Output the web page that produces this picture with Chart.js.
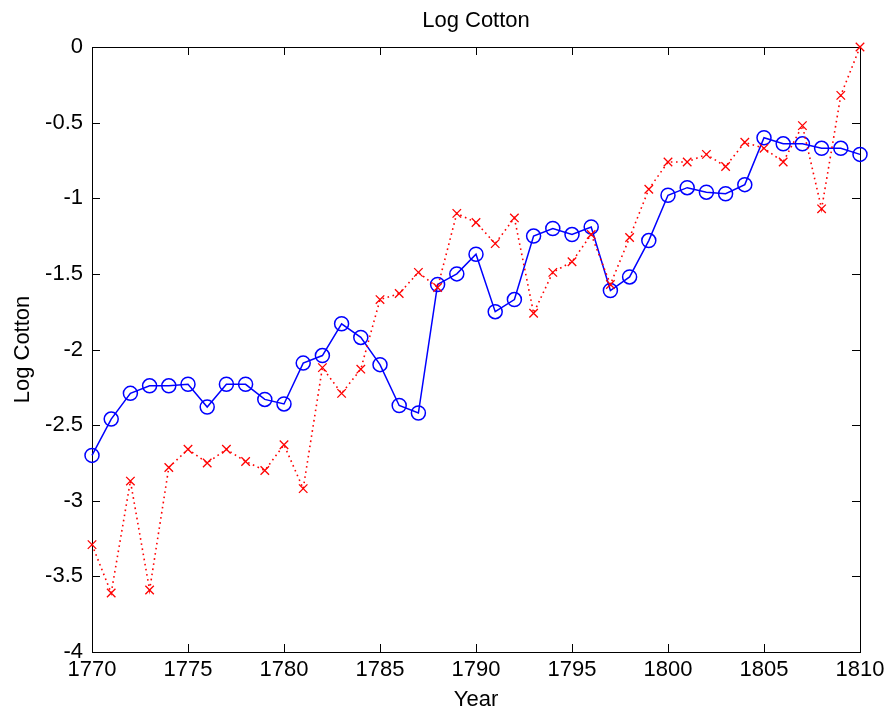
<!DOCTYPE html>
<html>
<head>
<meta charset="utf-8">
<script src="https://cdn.jsdelivr.net/npm/chart.js@4/dist/chart.umd.min.js"></script>
<style>
	html, body { margin: 0; padding: 0; background: #fff; }
</style>
</head>
<body>
<canvas id="chart" width="887" height="713"></canvas>
<script>
	'use strict';

	// data
	var years = [1770, 1771, 1772, 1773, 1774, 1775, 1776, 1777, 1778, 1779,
		1780, 1781, 1782, 1783, 1784, 1785, 1786, 1787, 1788, 1789,
		1790, 1791, 1792, 1793, 1794, 1795, 1796, 1797, 1798, 1799,
		1800, 1801, 1802, 1803, 1804, 1805, 1806, 1807, 1808, 1809, 1810];
	var cottonCircles = [-2.70, -2.46, -2.29, -2.24, -2.24, -2.23, -2.38, -2.23, -2.23, -2.33,
		-2.36, -2.09, -2.04, -1.83, -1.92, -2.10, -2.37, -2.42, -1.57, -1.50,
		-1.37, -1.75, -1.67, -1.25, -1.20, -1.24, -1.19, -1.61, -1.52, -1.28,
		-0.98, -0.93, -0.96, -0.97, -0.91, -0.60, -0.64, -0.64, -0.67, -0.67, -0.71];
	var cottonCrosses = [-3.29, -3.61, -2.87, -3.59, -2.78, -2.66, -2.75, -2.66, -2.74, -2.80,
		-2.63, -2.92, -2.12, -2.29, -2.13, -1.67, -1.63, -1.49, -1.59, -1.10,
		-1.16, -1.30, -1.13, -1.76, -1.49, -1.42, -1.24, -1.57, -1.26, -0.94,
		-0.76, -0.76, -0.71, -0.79, -0.63, -0.67, -0.76, -0.52, -1.07, -0.32, 0.00];
	var xTickLabels = [1770, 1775, 1780, 1785, 1790, 1795, 1800, 1805, 1810];
	var yTickLabels = [0, -0.5, -1, -1.5, -2, -2.5, -3, -3.5, -4];

	function toPoints(xs, ys) {
		return xs.map(function (x, i) { return { x: x, y: ys[i] }; });
	}

	var FONT = { family: '"Liberation Sans", Arial, sans-serif', size: 22, weight: 'normal' };

	// matlab style box with inward ticks on all four sides
	var boxTicks = {
		id: 'boxTicks',
		beforeDatasetsDraw: function (chart) {
			var ctx = chart.ctx, a = chart.chartArea;
			var sx = chart.scales.x, sy = chart.scales.y, len = 8;
			ctx.save();
			ctx.strokeStyle = '#000';
			ctx.lineWidth = 1;
			ctx.beginPath();
			xTickLabels.forEach(function (v) {
				var px = Math.round(sx.getPixelForValue(v)) + 0.5;
				ctx.moveTo(px, a.bottom); ctx.lineTo(px, a.bottom - len);
				ctx.moveTo(px, a.top); ctx.lineTo(px, a.top + len);
			});
			yTickLabels.forEach(function (v) {
				var py = Math.round(sy.getPixelForValue(v)) + 0.5;
				ctx.moveTo(a.left, py); ctx.lineTo(a.left + len, py);
				ctx.moveTo(a.right, py); ctx.lineTo(a.right - len, py);
			});
			ctx.stroke();
			ctx.strokeRect(Math.round(a.left) + 0.5, Math.round(a.top) + 0.5,
				Math.round(a.right - a.left), Math.round(a.bottom - a.top));
			ctx.restore();
		}
	};

	new Chart(document.getElementById('chart'), {
		type: 'line',
		data: {
			datasets: [{
				data: toPoints(years, cottonCrosses),
				borderColor: '#ff0000',
				borderWidth: 1.6,
				borderDash: [1.6, 3.6],
				pointStyle: 'crossRot',
				pointRadius: 6,
				pointBorderWidth: 1.3,
				pointBorderColor: '#ff0000',
				fill: false,
				tension: 0,
				clip: false
			}, {
				data: toPoints(years, cottonCircles),
				borderColor: '#0000ff',
				borderWidth: 1.5,
				pointStyle: 'circle',
				pointRadius: 7,
				pointBorderWidth: 1.5,
				pointBorderColor: '#0000ff',
				pointBackgroundColor: 'rgba(0,0,0,0)',
				fill: false,
				tension: 0,
				clip: false
			}]
		},
		options: {
			responsive: false,
			animation: false,
			layout: { padding: { left: 0, right: 27, top: 0, bottom: 0 } },
			plugins: {
				legend: { display: false },
				tooltip: { enabled: false },
				title: {
					display: true,
					fullSize: false,
					text: 'Log Cotton',
					color: '#000',
					font: FONT,
					padding: { top: 8, bottom: 12.6 }
				}
			},
			scales: {
				x: {
					type: 'linear',
					min: 1770,
					max: 1810,
					grid: { display: false, drawTicks: false },
					border: { display: false },
					afterBuildTicks: function (scale) {
						scale.ticks = xTickLabels.map(function (v) { return { value: v }; });
					},
					ticks: {
						color: '#000',
						font: FONT,
						padding: 5,
						maxRotation: 0,
						autoSkip: false,
						callback: function (v) { return String(v); }
					},
					title: {
						display: true,
						text: 'Year',
						color: '#000',
						font: FONT,
						padding: { top: 0, bottom: 0 }
					},
					afterFit: function (scale) {
						scale.height = 61;
						scale.paddingLeft = 0;
						scale.paddingRight = 0;
					}
				},
				y: {
					type: 'linear',
					min: -4,
					max: 0,
					grid: { display: false, drawTicks: false },
					border: { display: false },
					afterBuildTicks: function (scale) {
						scale.ticks = yTickLabels.map(function (v) { return { value: v }; });
					},
					ticks: {
						color: '#000',
						font: FONT,
						padding: 9,
						autoSkip: false,
						callback: function (v) { return String(v); }
					},
					title: {
						display: true,
						text: 'Log Cotton',
						color: '#000',
						font: FONT,
						padding: { top: 10, bottom: 0 }
					},
					afterFit: function (scale) {
						scale.width = 92;
						scale.paddingTop = 0;
						scale.paddingBottom = 0;
					}
				}
			}
		},
		plugins: [boxTicks]
	});
</script>
</body>
</html>
